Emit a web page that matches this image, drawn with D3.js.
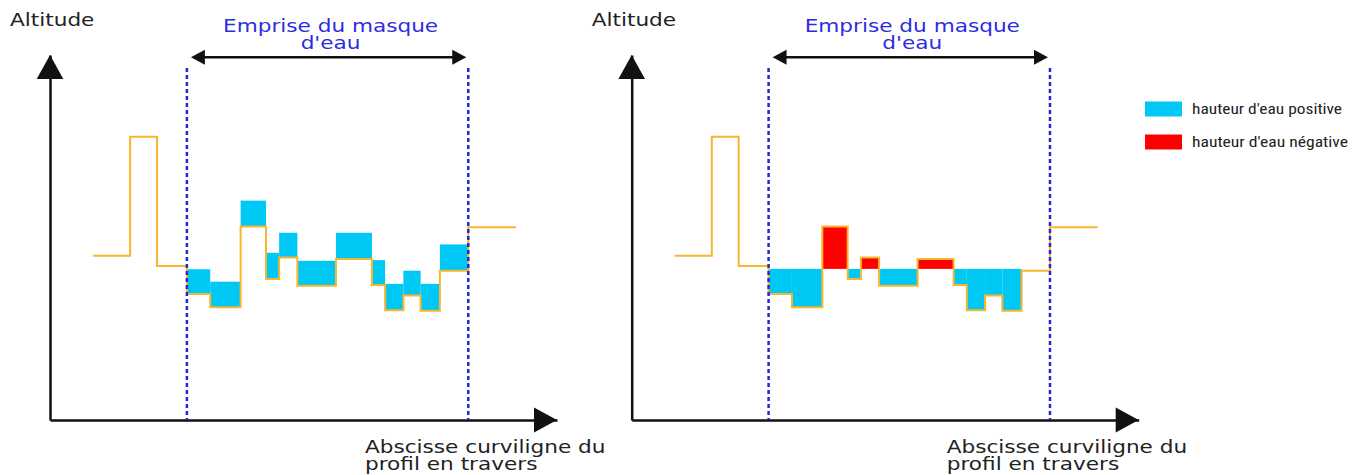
<!DOCTYPE html>
<html><head><meta charset="utf-8">
<script src="https://cdn.jsdelivr.net/npm/d3@7"></script>
<style>html,body{margin:0;padding:0;background:#fff;}svg{display:block;}</style>
</head><body>
<svg id="chart" width="1365" height="475"></svg>
<script>
// ---- data (abscissa units 0..100, altitude units 0..100) ----
const breaks = [8.5, 15.8, 21.1, 27.0, 31.6, 37.6, 42.6, 45.2, 48.8, 56.4, 63.5, 66.1, 69.7, 73.1, 76.9, 82.5, 91.9];
const ground = [45.0, 77.6, 42.2, 34.5, 30.9, 53.0, 38.6, 44.5, 36.8, 44.1, 37.0, 30.1, 34.1, 29.9, 40.9, 52.8];
const maskExtent = [27.0, 82.5];
// water surface of each segment inside the mask (segments 3..14)
const waterLeft = [41.3, 37.9, 60.1, 45.8, 51.3, 43.6, 51.3, 43.8, 37.3, 40.9, 37.3, 48.1];
const waterRight = [41.4, 41.4, 41.4, 41.4, 41.4, 41.4, 41.4, 41.4, 41.4, 41.4, 41.4, 40.9];
const maskFirstSegment = 3;
const panels = ["left", "right"];
const legendLabels = ["hauteur d'eau positive", "hauteur d'eau négative"];
const axisLabels = { y: "Altitude", x1: "Abscisse curviligne du", x2: "profil en travers" };
const maskLabels = ["Emprise du masque", "d'eau"];

// ---- styles ----
const C = { pos: "#00c8f5", neg: "#ff0000", ground: "#f7b62e", mask: "#2626d8", axis: "#111", text: "#222", blueText: "#2d2de0" };

const svg = d3.select("#chart");
const x = d3.scaleLinear().domain([0, 100]).range([50, 557]);
const y = d3.scaleLinear().domain([0, 100]).range([420, 55]);
const panelOffset = 581.7;
const STRETCH = 1.2;

function stretchText(sel) {
  sel.each(function () {
    const l = this.getComputedTextLength();
    d3.select(this).attr("textLength", l * STRETCH).attr("lengthAdjust", "spacingAndGlyphs");
  });
  return sel;
}

function drawPanel(i, water) {
  const g = svg.append("g").attr("transform", `translate(${i * panelOffset},0)`);

  // water cells
  const cells = water.map((w, k) => {
    const s = maskFirstSegment + k;
    return { x0: breaks[s], x1: breaks[s + 1], g: ground[s], w: w };
  }).filter(d => d.w !== d.g);
  g.append("g").selectAll("rect").data(cells).join("rect")
    .attr("x", d => x(d.x0)).attr("width", d => x(d.x1) - x(d.x0))
    .attr("y", d => y(Math.max(d.w, d.g))).attr("height", d => Math.abs(y(d.w) - y(d.g)))
    .attr("fill", d => d.w > d.g ? C.pos : C.neg);

  // ground profile (step line)
  const pts = ground.map((v, k) => [breaks[k], v]);
  pts.push([breaks[breaks.length - 1], ground[ground.length - 1]]);
  g.append("path").datum(pts)
    .attr("d", d3.line().x(d => x(d[0])).y(d => y(d[1])).curve(d3.curveStepAfter))
    .attr("fill", "none").attr("stroke", C.ground).attr("stroke-width", 2);

  // axes
  const ax = g.append("g").attr("transform", `translate(0,${y(0)})`)
    .call(d3.axisBottom(x).tickValues([]).tickSizeOuter(0));
  const ay = g.append("g").attr("transform", `translate(${x(0)},0)`)
    .call(d3.axisLeft(y).tickValues([]).tickSizeOuter(0));
  [ax, ay].forEach(a => a.select(".domain").attr("stroke", C.axis).attr("stroke-width", 2.5));
  // arrow heads
  const tx = x(100), ty = y(0);
  g.append("path").attr("d", `M${tx},${ty} L${tx - 23},${ty - 12.5} L${tx - 23},${ty + 12.5} Z`).attr("fill", C.axis);
  const ux = x(0), uy = y(100);
  g.append("path").attr("d", `M${ux},${uy} L${ux - 13.3},${uy + 24} L${ux + 13.3},${uy + 24} Z`).attr("fill", C.axis);

  // mask dotted lines
  g.append("g").selectAll("line").data(maskExtent).join("line")
    .attr("x1", d => x(d)).attr("x2", d => x(d)).attr("y1", 68).attr("y2", y(0))
    .attr("stroke", C.mask).attr("stroke-width", 2.5).attr("stroke-dasharray", "4,3");

  // double arrow
  const a0 = x(maskExtent[0]) + 4, a1 = x(maskExtent[1]) - 2, ay0 = 57.3;
  g.append("line").attr("x1", a0 + 10).attr("x2", a1 - 10).attr("y1", ay0).attr("y2", ay0)
    .attr("stroke", C.axis).attr("stroke-width", 2.5);
  g.append("path").attr("d", `M${a0},${ay0} L${a0 + 14},${ay0 - 7.5} L${a0 + 14},${ay0 + 7.5} Z`).attr("fill", C.axis);
  g.append("path").attr("d", `M${a1},${ay0} L${a1 - 14},${ay0 - 7.5} L${a1 - 14},${ay0 + 7.5} Z`).attr("fill", C.axis);

  const font = "DejaVu Sans, sans-serif";
  const cx = (a0 + a1) / 2 + 2;
  stretchText(g.append("text").attr("x", cx).attr("y", 32).attr("text-anchor", "middle")
    .attr("font-family", font).attr("font-size", 18).attr("fill", C.blueText).text(maskLabels[0]));
  stretchText(g.append("text").attr("x", cx).attr("y", 49).attr("text-anchor", "middle")
    .attr("font-family", font).attr("font-size", 18).attr("fill", C.blueText).text(maskLabels[1]));

  stretchText(g.append("text").attr("x", 10).attr("y", 26)
    .attr("font-family", font).attr("font-size", 18).attr("fill", C.text).text(axisLabels.y));
  stretchText(g.append("text").attr("x", 365).attr("y", 453)
    .attr("font-family", font).attr("font-size", 18).attr("fill", C.text).text(axisLabels.x1));
  stretchText(g.append("text").attr("x", 365).attr("y", 470)
    .attr("font-family", font).attr("font-size", 18).attr("fill", C.text).text(axisLabels.x2));
}

drawPanel(0, waterLeft);
drawPanel(1, waterRight);

// legend
const leg = svg.append("g");
const legColors = [C.pos, C.neg];
const legY = [101.5, 134.5];
legendLabels.forEach((lab, k) => {
  leg.append("rect").attr("x", 1145).attr("y", legY[k]).attr("width", 37).attr("height", 15).attr("fill", legColors[k]);
  leg.append("text").attr("x", 1192).attr("y", legY[k] + 12.5)
    .attr("font-family", "Liberation Sans Narrow, Roboto Condensed, Liberation Sans, sans-serif")
    .attr("font-size", 15).attr("fill", C.text)
    .attr("textLength", k === 0 ? 150 : 156).attr("lengthAdjust", "spacingAndGlyphs")
    .text(lab);
});
</script>
</body></html>
